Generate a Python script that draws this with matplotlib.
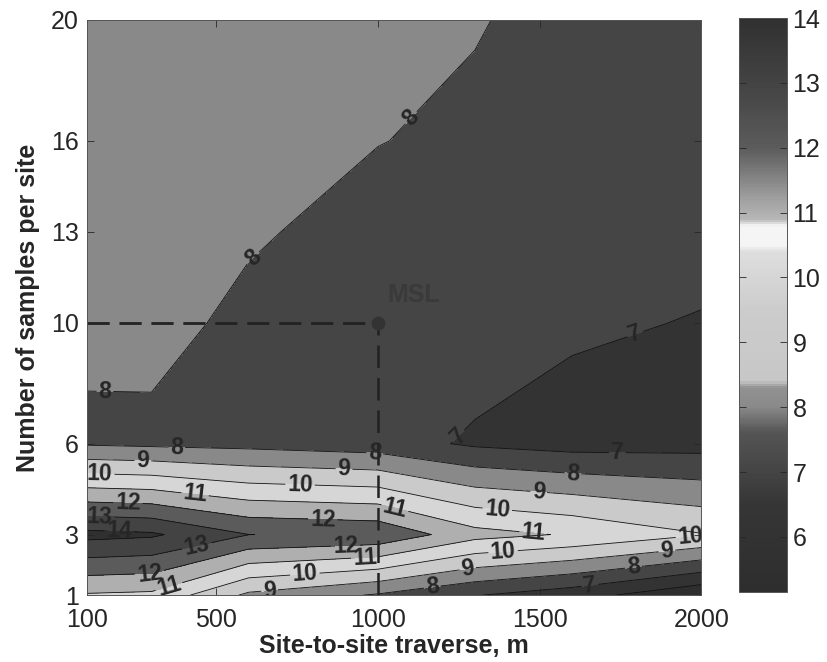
import numpy as np
import matplotlib
matplotlib.use('Agg')
import matplotlib.pyplot as plt
from matplotlib.colors import LinearSegmentedColormap, Normalize
from matplotlib.cm import ScalarMappable

plt.rcParams['font.family'] = ['Liberation Sans', 'DejaVu Sans']

# grid of the surface
traverse = [100, 300, 600, 1000, 1300, 1600, 2000]   # site-to-site traverse, m
samples = [1, 3, 6, 10, 13, 16, 20]                  # number of samples per site

# values, one row per sample count
z_1 = [10.90, 10.80, 8.80, 7.90, 7.05, 6.43, 5.15]
z_3 = [14.30, 14.15, 13.01, 12.80, 11.35, 10.90, 10.05]
z_6 = [7.90, 7.80, 7.70, 7.45, 6.85, 6.60, 6.64]
z_10 = [8.13, 8.27, 7.80, 7.40, 7.60, 7.15, 6.95]
z_13 = [8.35, 8.40, 8.10, 7.70, 7.75, 7.45, 7.30]
z_16 = [8.50, 8.55, 8.35, 8.02, 7.85, 7.60, 7.50]
z_20 = [8.60, 8.65, 8.50, 8.30, 8.05, 7.75, 7.65]

fill_levels = [5, 6, 7, 8, 9, 10, 11, 12, 13, 14, 15]
line_levels = [6, 7, 8, 9, 10, 11, 12, 13, 14]

msl_x, msl_y = 1000, 10

# where the contour labels sit
label_spots = [
    (156, 7.7), (626, 12.0), (1109, 16.7),
    (378, 5.8), (273, 5.4), (140, 5.0), (227, 4.05), (140, 3.55), (200, 3.15),
    (434, 4.3), (443, 2.45), (295, 1.65), (357, 1.16), (666, 1.05), (775, 1.56),
    (759, 4.6), (830, 3.55), (895, 5.1), (990, 5.6), (1053, 3.9), (900, 2.55),
    (960, 2.2), (1369, 3.8), (1497, 4.4), (1603, 4.95), (1480, 3.05),
    (1387, 2.45), (1276, 2.0), (1168, 1.3), (1893, 2.5), (1790, 1.95),
    (1966, 3.0), (1245, 6.3), (1740, 5.6), (1800, 9.5), (1656, 1.25),
]

Z = np.array([z_1, z_3, z_6, z_10, z_13, z_16, z_20])
X, Y = np.meshgrid(traverse, samples)

# grayscale map as printed
vmin, vmax = 5.15, 14.0
anchors = [(5.15, 0.18), (6.5, 0.21), (7.0, 0.27), (7.6, 0.33), (8.0, 0.54),
           (8.3, 0.57), (8.4, 0.78), (9.5, 0.80), (10.4, 0.87), (10.5, 0.96),
           (10.8, 0.96), (10.9, 0.72), (11.2, 0.63), (12.0, 0.36), (12.8, 0.28),
           (14.0, 0.19)]
cmap = LinearSegmentedColormap.from_list(
    'printgray', [((v - vmin) / (vmax - vmin), (g, g, g)) for v, g in anchors])
norm = Normalize(vmin=vmin, vmax=vmax)
# each band takes the colour of its lower level
band_colors = [cmap(norm(max(lv, vmin))) for lv in fill_levels[:-1]]

fig = plt.figure(figsize=(8.27, 6.62), dpi=100)
ax = fig.add_axes([0.105, 0.101, 0.743, 0.869])

ax.contourf(X, Y, Z, levels=fill_levels, colors=band_colors)
cs = ax.contour(X, Y, Z, levels=line_levels, colors='#111111', linewidths=0.6)
labels = ax.clabel(cs, fmt='%d', fontsize=16.5, colors='#262626', inline=True,
                   inline_spacing=2, manual=label_spots)
for t in labels:
    t.set_fontweight('bold')

ax.plot([traverse[0], msl_x], [msl_y, msl_y], color='#222222', lw=2,
        dashes=(8, 3.5))
ax.plot([msl_x, msl_x], [samples[0], msl_y], color='#222222', lw=1.8,
        dashes=(9, 4))
ax.plot(msl_x, msl_y, 'o', color='#333333', ms=9)
ax.text(1030, 10.5, 'MSL', fontsize=18, fontweight='bold', color='#3a3a3a',
        ha='left', va='bottom')

ax.set_xlim(traverse[0], traverse[-1])
ax.set_ylim(samples[0], samples[-1])
ax.set_xticks([100, 500, 1000, 1500, 2000])
ax.set_yticks(samples)
ax.tick_params(direction='in', top=True, right=True, length=5, width=0.6,
               labelsize=18, colors='#262626', pad=6)
ax.tick_params(axis='x', pad=9)
for sp in ax.spines.values():
    sp.set_linewidth(0.7)
    sp.set_color('#555555')
ax.set_xlabel('Site-to-site traverse, m', fontsize=18, fontweight='bold',
              color='#262626', labelpad=2)
ax.set_ylabel('Number of samples per site', fontsize=18, fontweight='bold',
              color='#262626', labelpad=8)

cax = fig.add_axes([0.8936, 0.1057, 0.058, 0.867])
cb = fig.colorbar(ScalarMappable(norm=norm, cmap=cmap), cax=cax)
cb.set_ticks(range(6, 15))
cax.tick_params(direction='in', left=True, right=True, length=5, width=0.6,
                labelsize=18, colors='#262626', pad=4)
cb.outline.set_linewidth(0.7)
cb.outline.set_edgecolor('#555555')

fig.savefig('out.png', dpi=100)
